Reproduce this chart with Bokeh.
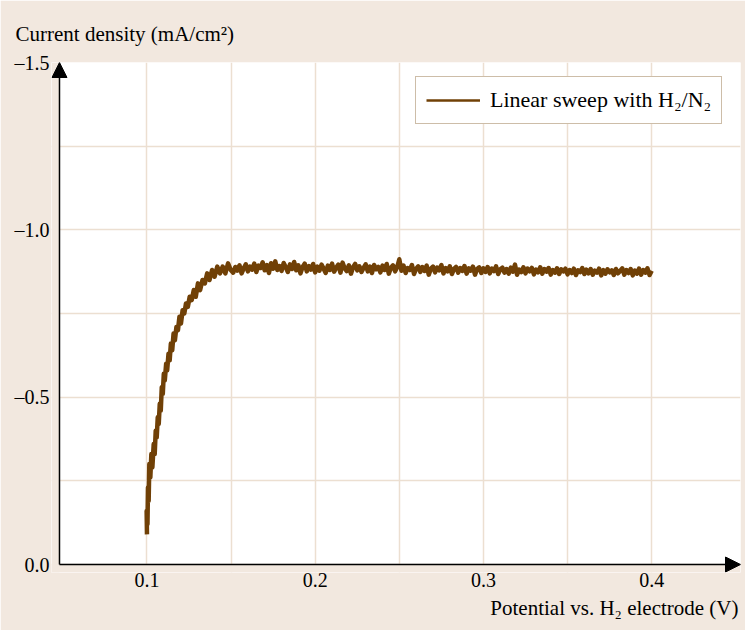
from bokeh.plotting import figure
from bokeh.models import (Range1d, FixedTicker, CustomJSTickFormatter, Arrow,
                          NormalHead, Legend, LegendItem, Title)
from bokeh.embed import file_html
from bokeh.resources import INLINE

# ---- data ----
rise_potential = [0.1000, 0.0998, 0.1003, 0.1006, 0.1010, 0.1014, 0.1020, 0.1026, 0.1032,
                  0.1040, 0.1046, 0.1052, 0.1058, 0.1064, 0.1070, 0.1076, 0.1082, 0.1088,
                  0.1094, 0.1100, 0.1106, 0.1114, 0.1120, 0.1128, 0.1135, 0.1142, 0.1150,
                  0.1158, 0.1166, 0.1175, 0.1184, 0.1193, 0.1202, 0.1212, 0.1222, 0.1232,
                  0.1243, 0.1254, 0.1266, 0.1278, 0.1290, 0.1303, 0.1316, 0.1330, 0.1344,
                  0.1358, 0.1372, 0.1387, 0.1402, 0.1418, 0.1434, 0.1450, 0.1466, 0.1482,
                  0.1498]
rise_current = [-0.09, -0.16, -0.12, -0.23, -0.19, -0.30, -0.26, -0.33, -0.29,
                -0.36, -0.33, -0.40, -0.38, -0.44, -0.42, -0.48, -0.46, -0.53,
                -0.51, -0.57, -0.55, -0.60, -0.58, -0.63, -0.61, -0.66, -0.64,
                -0.69, -0.67, -0.71, -0.70, -0.74, -0.72, -0.76, -0.75, -0.78,
                -0.77, -0.80, -0.79, -0.82, -0.80, -0.84, -0.82, -0.85, -0.84,
                -0.87, -0.85, -0.88, -0.86, -0.89, -0.87, -0.89, -0.87, -0.90,
                -0.88]
plateau_potential = [
    0.15125, 0.1525, 0.15375, 0.155, 0.15625, 0.1575, 0.15875, 0.16, 0.16125, 0.1625,
    0.16375, 0.165, 0.16625, 0.1675, 0.16875, 0.17, 0.17125, 0.1725, 0.17375, 0.175,
    0.17625, 0.1775, 0.17875, 0.18, 0.18125, 0.1825, 0.18375, 0.185, 0.18625, 0.1875,
    0.18875, 0.19, 0.19125, 0.1925, 0.19375, 0.195, 0.19625, 0.1975, 0.19875, 0.2,
    0.20125, 0.2025, 0.20375, 0.205, 0.20625, 0.2075, 0.20875, 0.21, 0.21125, 0.2125,
    0.21375, 0.215, 0.21625, 0.2175, 0.21875, 0.22, 0.22125, 0.2225, 0.22375, 0.225,
    0.22625, 0.2275, 0.22875, 0.23, 0.23125, 0.2325, 0.23375, 0.235, 0.23625, 0.2375,
    0.23875, 0.24, 0.24125, 0.2425, 0.24375, 0.245, 0.24625, 0.2475, 0.24875, 0.25,
    0.25125, 0.2525, 0.25375, 0.255, 0.25625, 0.2575, 0.25875, 0.26, 0.26125, 0.2625,
    0.26375, 0.265, 0.26625, 0.2675, 0.26875, 0.27, 0.27125, 0.2725, 0.27375, 0.275,
    0.27625, 0.2775, 0.27875, 0.28, 0.28125, 0.2825, 0.28375, 0.285, 0.28625, 0.2875,
    0.28875, 0.29, 0.29125, 0.2925, 0.29375, 0.295, 0.29625, 0.2975, 0.29875, 0.3,
    0.30125, 0.3025, 0.30375, 0.305, 0.30625, 0.3075, 0.30875, 0.31, 0.31125, 0.3125,
    0.31375, 0.315, 0.31625, 0.3175, 0.31875, 0.32, 0.32125, 0.3225, 0.32375, 0.325,
    0.32625, 0.3275, 0.32875, 0.33, 0.33125, 0.3325, 0.33375, 0.335, 0.33625, 0.3375,
    0.33875, 0.34, 0.34125, 0.3425, 0.34375, 0.345, 0.34625, 0.3475, 0.34875, 0.35,
    0.35125, 0.3525, 0.35375, 0.355, 0.35625, 0.3575, 0.35875, 0.36, 0.36125, 0.3625,
    0.36375, 0.365, 0.36625, 0.3675, 0.36875, 0.37, 0.37125, 0.3725, 0.37375, 0.375,
    0.37625, 0.3775, 0.37875, 0.38, 0.38125, 0.3825, 0.38375, 0.385, 0.38625, 0.3875,
    0.38875, 0.39, 0.39125, 0.3925, 0.39375, 0.395, 0.39625, 0.3975, 0.39875, 0.4]
plateau_current = [
    -0.872, -0.889, -0.878, -0.894, -0.870, -0.885, -0.897, -0.876, -0.890, -0.881,
    -0.899, -0.874, -0.893, -0.886, -0.903, -0.879, -0.895, -0.871, -0.900, -0.884,
    -0.906, -0.880, -0.892, -0.877, -0.901, -0.888, -0.874, -0.897, -0.883, -0.904,
    -0.879, -0.894, -0.870, -0.889, -0.899, -0.876, -0.892, -0.881, -0.898, -0.873,
    -0.890, -0.878, -0.896, -0.884, -0.871, -0.893, -0.880, -0.899, -0.875, -0.887,
    -0.896, -0.872, -0.902, -0.885, -0.877, -0.894, -0.869, -0.888, -0.898, -0.879,
    -0.891, -0.874, -0.886, -0.897, -0.876, -0.890, -0.871, -0.895, -0.882, -0.889,
    -0.873, -0.893, -0.880, -0.898, -0.869, -0.887, -0.894, -0.876, -0.889, -0.912,
    -0.878, -0.893, -0.871, -0.886, -0.880, -0.895, -0.868, -0.884, -0.891, -0.874,
    -0.889, -0.877, -0.893, -0.866, -0.884, -0.890, -0.873, -0.887, -0.879, -0.895,
    -0.870, -0.886, -0.876, -0.891, -0.868, -0.883, -0.889, -0.872, -0.886, -0.877,
    -0.892, -0.869, -0.885, -0.878, -0.890, -0.866, -0.883, -0.888, -0.871, -0.885,
    -0.874, -0.889, -0.870, -0.884, -0.877, -0.891, -0.868, -0.882, -0.887, -0.872,
    -0.883, -0.869, -0.887, -0.875, -0.896, -0.866, -0.881, -0.874, -0.888, -0.870,
    -0.884, -0.876, -0.886, -0.867, -0.881, -0.873, -0.888, -0.869, -0.883, -0.875,
    -0.886, -0.866, -0.880, -0.872, -0.885, -0.868, -0.882, -0.876, -0.884, -0.867,
    -0.880, -0.871, -0.884, -0.865, -0.879, -0.874, -0.886, -0.868, -0.881, -0.870,
    -0.883, -0.866, -0.878, -0.872, -0.884, -0.864, -0.880, -0.869, -0.882, -0.873,
    -0.879, -0.865, -0.883, -0.870, -0.877, -0.885, -0.866, -0.880, -0.871, -0.883,
    -0.864, -0.878, -0.869, -0.884, -0.866, -0.880, -0.872, -0.885, -0.865, -0.878]

x_ticks = [0.1, 0.2, 0.3, 0.4]
x_minor = [0.15, 0.25, 0.35]
y_ticks = [0.0, -0.5, -1.0, -1.5]
y_minor = [-0.25, -0.75, -1.25]
series_label = "Linear sweep with H\u2082/N\u2082"
x_title = "Potential vs. H\u2082 electrode (V)"
y_title = "Current density (mA/cm\u00b2)"

potential = rise_potential + plateau_potential
current = rise_current + plateau_current

BG = "#f2e8df"
GRID = "#ecdfd1"
LINE = "#704006"
FONT = "Liberation Serif"

# where the drawn axes sit, plus a small outer strip of frame so arrow heads are not clipped
x0, x1 = 0.048, 0.4528
y0, y1 = 0.0, -1.5
xa = 0.04325   # frame edge, 8 px left of the y axis
yb = 0.0239    # frame edge, 8 px below the x axis

p = figure(width=745, height=630, output_backend="svg", toolbar_location=None, title=None,
           x_range=Range1d(xa, x1), y_range=Range1d(yb, y1),
           min_border_left=51, min_border_right=5, min_border_top=62, min_border_bottom=58)
p.background_fill_color = "white"
p.border_fill_color = BG
p.outline_line_color = None

for ax in (p.xaxis[0], p.yaxis[0]):
    ax.axis_line_color = None
    ax.major_tick_out = 0
    ax.major_tick_in = 0
    ax.minor_tick_out = 0
    ax.minor_tick_in = 0
    ax.major_label_text_font = FONT
    ax.major_label_text_font_size = "20px"
    ax.major_label_text_color = "black"

p.xaxis[0].ticker = FixedTicker(ticks=x_ticks, minor_ticks=x_minor)
p.yaxis[0].ticker = FixedTicker(ticks=y_ticks, minor_ticks=y_minor)
p.xaxis[0].major_label_standoff = 0
p.yaxis[0].major_label_standoff = 2
p.xaxis[0].formatter = CustomJSTickFormatter(code="return tick.toFixed(1);")
p.yaxis[0].formatter = CustomJSTickFormatter(
    code="return (tick < 0 ? '\u2013' : '') + Math.abs(tick).toFixed(1);")

for g in (p.xgrid[0], p.ygrid[0]):
    g.grid_line_color = GRID
    g.grid_line_width = 1.5
    g.minor_grid_line_color = GRID
    g.minor_grid_line_width = 1.5

# beige strips outside the axes (hide grid-line overhang)
p.quad(left=[xa], right=[x0], bottom=[yb], top=[y1], fill_color=BG, line_color=None)
p.quad(left=[xa], right=[x1], bottom=[yb], top=[y0], fill_color=BG, line_color=None)

p.line(potential, current, line_color=LINE, line_width=4.5, line_join="round")

# one-point renderer that only supplies the legend sample line
legend_glyph = p.line(x=potential[:1], y=current[:1], line_color=LINE, line_width=2.5)
legend = Legend(items=[LegendItem(label=series_label, renderers=[legend_glyph])],
                location=(364, 448), margin=0, padding=10, spacing=0,
                border_line_color="#9c7c52", border_line_width=1,
                background_fill_color="white", background_fill_alpha=1,
                label_text_font=FONT, label_text_font_size="22px", label_text_color="black",
                glyph_width=54, glyph_height=20, label_standoff=10)
p.add_layout(legend)

# axis lines with arrow heads
p.add_layout(Arrow(end=NormalHead(size=15, fill_color="black", line_color="black"),
                   x_start=x0, y_start=y0, x_end=x0, y_end=y1,
                   line_color="black", line_width=1.5))
p.add_layout(Arrow(end=NormalHead(size=15, fill_color="black", line_color="black"),
                   x_start=x0, y_start=y0, x_end=x1, y_end=y0,
                   line_color="black", line_width=1.5))

# axis titles
p.add_layout(Title(text=y_title, align="left", offset=-36, standoff=34,
                   text_font=FONT, text_font_size="21px", text_font_style="normal",
                   text_color="black"), "above")
p.add_layout(Title(text=x_title, align="right", offset=2, standoff=8,
                   text_font=FONT, text_font_size="21px", text_font_style="normal",
                   text_color="black"), "below")

open("out.html", "w").write(file_html(p, INLINE))
